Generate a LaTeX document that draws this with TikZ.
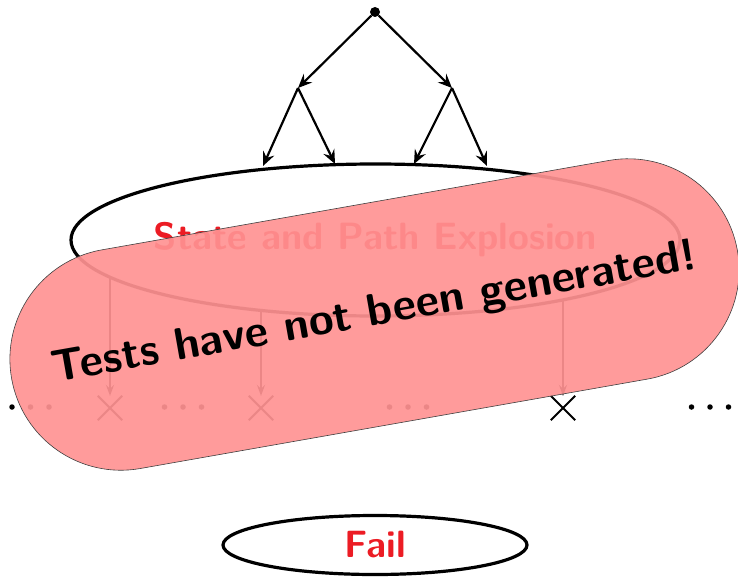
\documentclass[tikz,border=0pt]{standalone}
\usetikzlibrary{arrows.meta,shapes.geometric}
\definecolor{failred}{RGB}{236,28,36}
\definecolor{veil}{RGB}{255,146,146}
\begin{document}
\begin{tikzpicture}[x=1pt,y=-1pt,
  treearrow/.style={line width=2.2pt,-{Stealth[length=14pt,width=12pt,inset=5pt]}},
  downarrow/.style={line width=1.2pt,-{Stealth[length=11pt,width=8pt,inset=4pt]}},
  bigell/.style={ellipse,draw,line width=3.2pt,inner sep=0pt},
  redlabel/.style={text=failred,font=\fontsize{38}{44}\selectfont\sffamily\bfseries},
  dotmark/.style={circle,fill,inner sep=0pt,minimum size=5.5pt},
  crossmark/.style={line width=1.8pt},
  veilbox/.style={draw=black!75,line width=0.6pt,fill=veil,fill opacity=0.92,text opacity=1,
    rounded corners=111pt,minimum width=737pt,minimum height=222pt,rotate=10,
    font=\fontsize{45}{52}\selectfont\sffamily\bfseries}
]
\useasboundingbox (0,0) rectangle (738,583);
% tree
\node[circle,fill,inner sep=0pt,minimum size=10pt] (r) at (375,12) {};
\coordinate (a) at (298,88);
\coordinate (b) at (452,88);
\coordinate (a1) at (263,166);
\coordinate (a2) at (335,164);
\coordinate (b1) at (414,164);
\coordinate (b2) at (487,166);
\draw[treearrow] (r) -- (a);
\draw[treearrow] (r) -- (b);
\draw[treearrow] (a) -- (a1);
\draw[treearrow] (a) -- (a2);
\draw[treearrow] (b) -- (b1);
\draw[treearrow] (b) -- (b2);
% explosion ellipse
\node[bigell,minimum width=609pt,minimum height=152pt] (ell) at (375.5,240) {};
\node[redlabel] (elltext) at (ell.center) {State and Path Explosion};
% lower arrows and crosses
\coordinate (s1) at (110,278);
\coordinate (s2) at (261,311);
\coordinate (s3) at (563,301);
\node[inner sep=0pt,minimum size=24pt] (x1) at (110,408) {};
\node[inner sep=0pt,minimum size=24pt] (x2) at (261,408) {};
\node[inner sep=0pt,minimum size=24pt] (x3) at (563,408) {};
\foreach \n in {x1,x2,x3}{
  \draw[crossmark] (\n.north west) -- (\n.south east);
  \draw[crossmark] (\n.north east) -- (\n.south west);
}
\draw[downarrow] (s1) -- (x1.north);
\draw[downarrow] (s2) -- (x2.north);
\draw[downarrow] (s3) -- (x3.north);
% dots
\foreach \cx [count=\i] in {30.5,183,408,710}{
  \node[dotmark] (d\i a) at (\cx-18.5,407) {};
  \node[dotmark] (d\i b) at (\cx,407) {};
  \node[dotmark] (d\i c) at (\cx+18.5,407) {};
}
% fail
\node[bigell,minimum width=304pt,minimum height=59pt] (fail) at (375,545) {};
\node[redlabel] (failtext) at (fail.center) {Fail};
% veil
\node[veilbox] (veil) at (374.5,314.5) {Tests have not been generated!};
\end{tikzpicture}
\end{document}
